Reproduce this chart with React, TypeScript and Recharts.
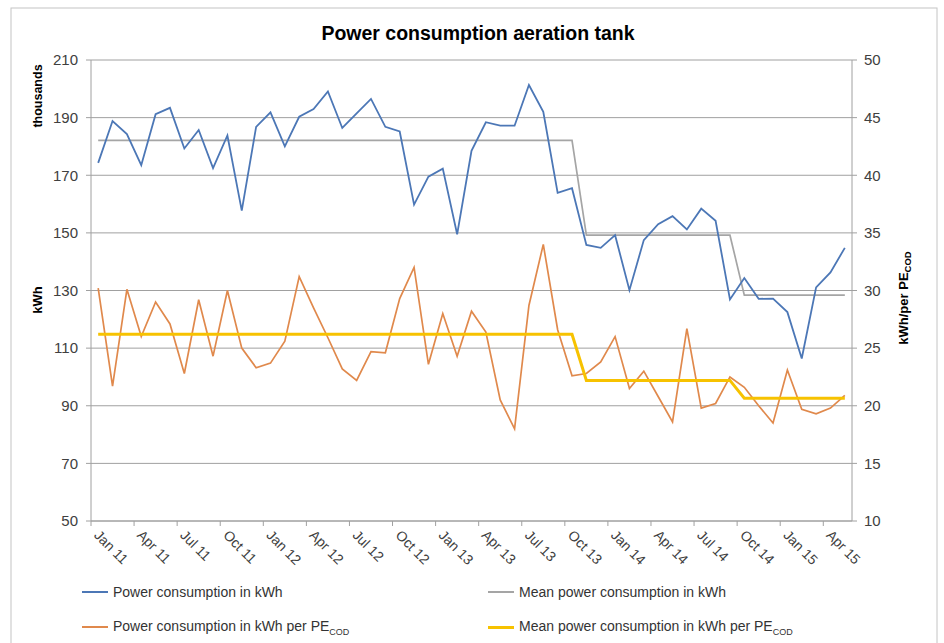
import { LineChart, Line, XAxis, YAxis, CartesianGrid } from "recharts";

// Jan 2011 .. May 2015, one point per month
const months = [
  "Jan 11", "Feb 11", "Mar 11", "Apr 11", "May 11", "Jun 11", "Jul 11", "Aug 11", "Sep 11", "Oct 11", "Nov 11", "Dec 11",
  "Jan 12", "Feb 12", "Mar 12", "Apr 12", "May 12", "Jun 12", "Jul 12", "Aug 12", "Sep 12", "Oct 12", "Nov 12", "Dec 12",
  "Jan 13", "Feb 13", "Mar 13", "Apr 13", "May 13", "Jun 13", "Jul 13", "Aug 13", "Sep 13", "Oct 13", "Nov 13", "Dec 13",
  "Jan 14", "Feb 14", "Mar 14", "Apr 14", "May 14", "Jun 14", "Jul 14", "Aug 14", "Sep 14", "Oct 14", "Nov 14", "Dec 14",
  "Jan 15", "Feb 15", "Mar 15", "Apr 15", "May 15",
];

// thousands kWh
const powerKwh = [
  174.3, 188.8, 184.3, 173.5, 191.2, 193.4, 179.3, 185.7, 172.5, 183.8, 157.7, 186.8,
  191.8, 180.0, 190.3, 193.0, 199.1, 186.4, 191.5, 196.5, 186.8, 185.2, 159.8, 169.5,
  172.3, 149.5, 178.5, 188.4, 187.2, 187.2, 201.3, 192.0, 163.9, 165.5, 145.8, 144.8,
  149.2, 130.1, 147.5, 153.0, 155.8, 151.2, 158.4, 154.2, 126.9, 134.3, 127.1, 127.2,
  122.5, 106.4, 131.1, 136.3, 144.8,
];

const meanPowerKwh = [
  182.1, 182.1, 182.1, 182.1, 182.1, 182.1, 182.1, 182.1, 182.1, 182.1, 182.1, 182.1,
  182.1, 182.1, 182.1, 182.1, 182.1, 182.1, 182.1, 182.1, 182.1, 182.1, 182.1, 182.1,
  182.1, 182.1, 182.1, 182.1, 182.1, 182.1, 182.1, 182.1, 182.1, 182.1, 149.2, 149.2,
  149.2, 149.2, 149.2, 149.2, 149.2, 149.2, 149.2, 149.2, 149.2, 128.4, 128.4, 128.4,
  128.4, 128.4, 128.4, 128.4, 128.4,
];

// kWh per PE(COD)
const powerPerPe = [
  30.2, 21.7, 30.1, 26.0, 29.0, 27.1, 22.8, 29.2, 24.3, 30.0, 25.0, 23.3,
  23.7, 25.6, 31.2, 28.5, 25.9, 23.2, 22.2, 24.7, 24.6, 29.3, 32.0, 23.6,
  28.0, 24.3, 28.2, 26.4, 20.5, 18.0, 28.7, 34.0, 26.6, 22.6, 22.8, 23.8,
  26.0, 21.5, 23.0, 20.8, 18.6, 26.7, 19.8, 20.2, 22.5, 21.6, 20.0, 18.5,
  23.1, 19.7, 19.3, 19.8, 20.9,
];

const meanPowerPerPe = [
  26.2, 26.2, 26.2, 26.2, 26.2, 26.2, 26.2, 26.2, 26.2, 26.2, 26.2, 26.2,
  26.2, 26.2, 26.2, 26.2, 26.2, 26.2, 26.2, 26.2, 26.2, 26.2, 26.2, 26.2,
  26.2, 26.2, 26.2, 26.2, 26.2, 26.2, 26.2, 26.2, 26.2, 26.2, 22.2, 22.2,
  22.2, 22.2, 22.2, 22.2, 22.2, 22.2, 22.2, 22.2, 22.2, 20.65, 20.65, 20.65,
  20.65, 20.65, 20.65, 20.65, 20.65,
];

const leftTicks = [50, 70, 90, 110, 130, 150, 170, 190, 210];
const rightTicks = [10, 15, 20, 25, 30, 35, 40, 45, 50];

const data = months.map((month, i) => ({
  month,
  power: powerKwh[i],
  meanPower: meanPowerKwh[i],
  perPe: powerPerPe[i],
  meanPerPe: meanPowerPerPe[i],
}));

const FONT = '"Liberation Sans", Arial, sans-serif';
const AXIS = "#a0a0a0";
const TEXT = "#404040";
const BAND = 761 / 53;

const BLUE = "#4c77b6";
const GRAY = "#a5a5a5";
const ORANGE = "#e0894c";
const YELLOW = "#f7c200";

function MonthTick(props: any) {
  const { x, y, payload } = props;
  const axisY = y - 9;
  return (
    <g>
      <line x1={x - BAND / 2} y1={axisY} x2={x - BAND / 2} y2={axisY + 5} stroke={AXIS} />
      <text
        x={x - 5}
        y={y + 6}
        transform={`rotate(45, ${x - 5}, ${y + 6})`}
        textAnchor="start"
        fontSize={14}
        fill={TEXT}
        fontFamily={FONT}
      >
        {payload.value}
      </text>
    </g>
  );
}

function LegendItem({ color, left, top, thick, children }: any) {
  return (
    <div style={{ position: "absolute", left, top, display: "flex", alignItems: "center", whiteSpace: "nowrap" }}>
      <div style={{ width: 26, height: thick ? 3 : 2, background: color, marginRight: 5 }} />
      <span style={{ fontSize: 14, color: "#333", fontFamily: FONT }}>{children}</span>
    </div>
  );
}

export default function App() {
  return (
    <div style={{ position: "absolute", left: 0, top: 0, width: 944, height: 643, background: "#fff", overflow: "hidden" }}>
      <LineChart width={944} height={643} data={data} margin={{ top: 60, right: 0, bottom: 62, left: 0 }}>
        <CartesianGrid vertical={false} stroke={AXIS} yAxisId="left" />
        <XAxis
          dataKey="month"
          interval={2}
          padding={{ left: BAND / 2, right: BAND / 2 }}
          height={60}
          tickSize={5}
          tickMargin={4}
          tickLine={false}
          axisLine={{ stroke: AXIS }}
          tick={<MonthTick />}
        />
        <YAxis
          yAxisId="left"
          domain={[50, 210]}
          ticks={leftTicks}
          width={91}
          tickSize={5}
          tickMargin={8}
          axisLine={{ stroke: AXIS }}
          tickLine={{ stroke: AXIS }}
          tick={{ fontSize: 15, fill: TEXT, fontFamily: FONT }}
        />
        <YAxis
          yAxisId="right"
          orientation="right"
          domain={[10, 50]}
          ticks={rightTicks}
          width={92}
          tickSize={5}
          tickMargin={7}
          axisLine={{ stroke: AXIS }}
          tickLine={{ stroke: AXIS }}
          tick={{ fontSize: 15, fill: TEXT, fontFamily: FONT }}
        />
        <Line yAxisId="left" dataKey="meanPower" stroke={GRAY} strokeWidth={1.7} dot={false} isAnimationActive={false} />
        <Line yAxisId="left" dataKey="power" stroke={BLUE} strokeWidth={1.8} dot={false} isAnimationActive={false} />
        <Line yAxisId="right" dataKey="perPe" stroke={ORANGE} strokeWidth={1.7} dot={false} isAnimationActive={false} />
        <Line yAxisId="right" dataKey="meanPerPe" stroke={YELLOW} strokeWidth={3} dot={false} isAnimationActive={false} />
      </LineChart>

      <svg width={944} height={643} style={{ position: "absolute", left: 0, top: 0, pointerEvents: "none" }}>
        <rect x={11} y={8} width={926} height={650} fill="none" stroke="#c4c4c4" />
        <text x={478} y={40} textAnchor="middle" fontSize={19.5} fontWeight="bold" fill="#000" fontFamily={FONT}>
          Power consumption aeration tank
        </text>
        <text x={42} y={96} transform="rotate(-90, 42, 96)" textAnchor="middle" fontSize={12.5} fontWeight="bold" fill="#000" fontFamily={FONT}>
          thousands
        </text>
        <text x={42} y={300} transform="rotate(-90, 42, 300)" textAnchor="middle" fontSize={13} fontWeight="bold" fill="#000" fontFamily={FONT}>
          kWh
        </text>
        <text x={908} y={298} transform="rotate(-90, 908, 298)" textAnchor="middle" fontSize={13} fontWeight="bold" fill="#000" fontFamily={FONT}>
          kWh/per PE
          <tspan fontSize={9.5} dy={3}>COD</tspan>
        </text>
      </svg>

      <LegendItem color={BLUE} left={82} top={584}>Power consumption in kWh</LegendItem>
      <LegendItem color={GRAY} left={488} top={584}>Mean power consumption in kWh</LegendItem>
      <LegendItem color={ORANGE} left={82} top={618}>
        Power consumption in kWh per PE<sub style={{ fontSize: 9 }}>COD</sub>
      </LegendItem>
      <LegendItem color={YELLOW} left={488} top={618} thick>
        Mean power consumption in kWh per PE<sub style={{ fontSize: 9 }}>COD</sub>
      </LegendItem>
    </div>
  );
}
